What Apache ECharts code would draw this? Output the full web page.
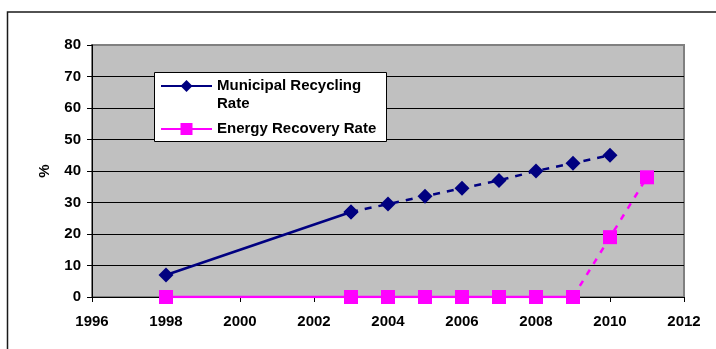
<!DOCTYPE html>
<html>
<head>
<meta charset="utf-8">
<script src="https://cdn.jsdelivr.net/npm/echarts@6/dist/echarts.min.js"></script>
<style>
html,body{margin:0;padding:0;background:#fff;}
#chart{width:716px;height:349px;}
</style>
</head>
<body>
<div id="chart"></div>
<script>
// ---- data ----
const recyclingName = 'Municipal Recycling Rate';
const energyName = 'Energy Recovery Rate';
const recyclingYears = [1998, 2003, 2004, 2005, 2006, 2007, 2008, 2009, 2010];
const recyclingValues = [7, 27, 29.5, 32, 34.5, 37, 40, 42.5, 45];
const recyclingSolidUntil = 2003;
const energyYears = [1998, 2003, 2004, 2005, 2006, 2007, 2008, 2009, 2010, 2011];
const energyValues = [0, 0, 0, 0, 0, 0, 0, 0, 19, 38];
const energySolidUntil = 2009;
const xMin = 1996, xMax = 2012, xStep = 2;
const yMin = 0, yMax = 80, yStep = 10;
const yAxisTitle = '%';

function pairs(xs, ys) { return xs.map((x, i) => [x, ys[i]]); }
const recPts = pairs(recyclingYears, recyclingValues);
const enPts = pairs(energyYears, energyValues);

const font = { fontFamily: 'Liberation Sans, Arial, sans-serif', fontWeight: 'bold', fontSize: 15, color: '#000' };
const navy = '#000080', magenta = '#FF00FF';

const chart = echarts.init(document.getElementById('chart'));
chart.setOption({
  animation: false,
  backgroundColor: '#fff',
  graphic: [
    { type: 'rect', z: 0, shape: { x: 7.5, y: 12, width: 800, height: 400 }, style: { fill: null, stroke: '#1a1a1a', lineWidth: 1.5 } },
    { type: 'rect', z: 3, shape: { x: 154.5, y: 72.5, width: 232, height: 69 }, style: { fill: '#fff', stroke: '#000', lineWidth: 1 } }
  ],
  grid: {
    left: 92, right: 32, top: 45, bottom: 52,
    show: true, backgroundColor: '#C0C0C0', borderColor: '#808080', borderWidth: 2
  },
  legend: {
    orient: 'vertical', left: 160, top: 59, padding: 0, itemGap: 7,
    itemWidth: 51, itemHeight: 15,
    data: [recyclingName, energyName],
    formatter: n => n === recyclingName ? '\nMunicipal Recycling\nRate' : n,
    textStyle: Object.assign({}, font, { lineHeight: 18 }),
    z: 5
  },
  xAxis: {
    type: 'value', min: xMin, max: xMax, interval: xStep,
    axisLine: { show: true, onZero: false, lineStyle: { color: '#000', width: 1 } },
    axisTick: { show: true, length: 5, lineStyle: { color: '#000' } },
    axisLabel: Object.assign({ margin: 17, formatter: v => String(v) }, font),
    splitLine: { show: false }
  },
  yAxis: {
    type: 'value', min: yMin, max: yMax, interval: yStep,
    name: yAxisTitle, nameLocation: 'middle', nameGap: 40, nameRotate: 90,
    nameTextStyle: font,
    axisLine: { show: true, lineStyle: { color: '#000', width: 1 } },
    axisTick: { show: true, length: 5, lineStyle: { color: '#000' } },
    axisLabel: Object.assign({ margin: 11 }, font),
    splitLine: { show: true, showMaxLine: false, lineStyle: { color: '#000', width: 1 } }
  },
  series: [
    {
      name: recyclingName, type: 'line', z: 3,
      data: recPts.filter(p => p[0] <= recyclingSolidUntil),
      symbol: 'diamond', symbolSize: 15,
      itemStyle: { color: navy }, lineStyle: { color: navy, width: 2.5, type: 'solid' }
    },
    {
      name: recyclingName, type: 'line', z: 3,
      data: recPts.filter(p => p[0] >= recyclingSolidUntil),
      symbol: 'diamond', symbolSize: 15,
      itemStyle: { color: navy }, lineStyle: { color: navy, width: 2.5, type: [7, 7] }
    },
    {
      name: energyName, type: 'line', z: 3,
      data: enPts.filter(p => p[0] <= energySolidUntil),
      symbol: 'rect', symbolSize: 14,
      itemStyle: { color: magenta }, lineStyle: { color: magenta, width: 2.5, type: 'solid' }
    },
    {
      name: energyName, type: 'line', z: 3,
      data: enPts.filter(p => p[0] >= energySolidUntil),
      symbol: 'rect', symbolSize: 14,
      itemStyle: { color: magenta }, lineStyle: { color: magenta, width: 2.5, type: [6, 7] }
    }
  ]
});
</script>
</body>
</html>
